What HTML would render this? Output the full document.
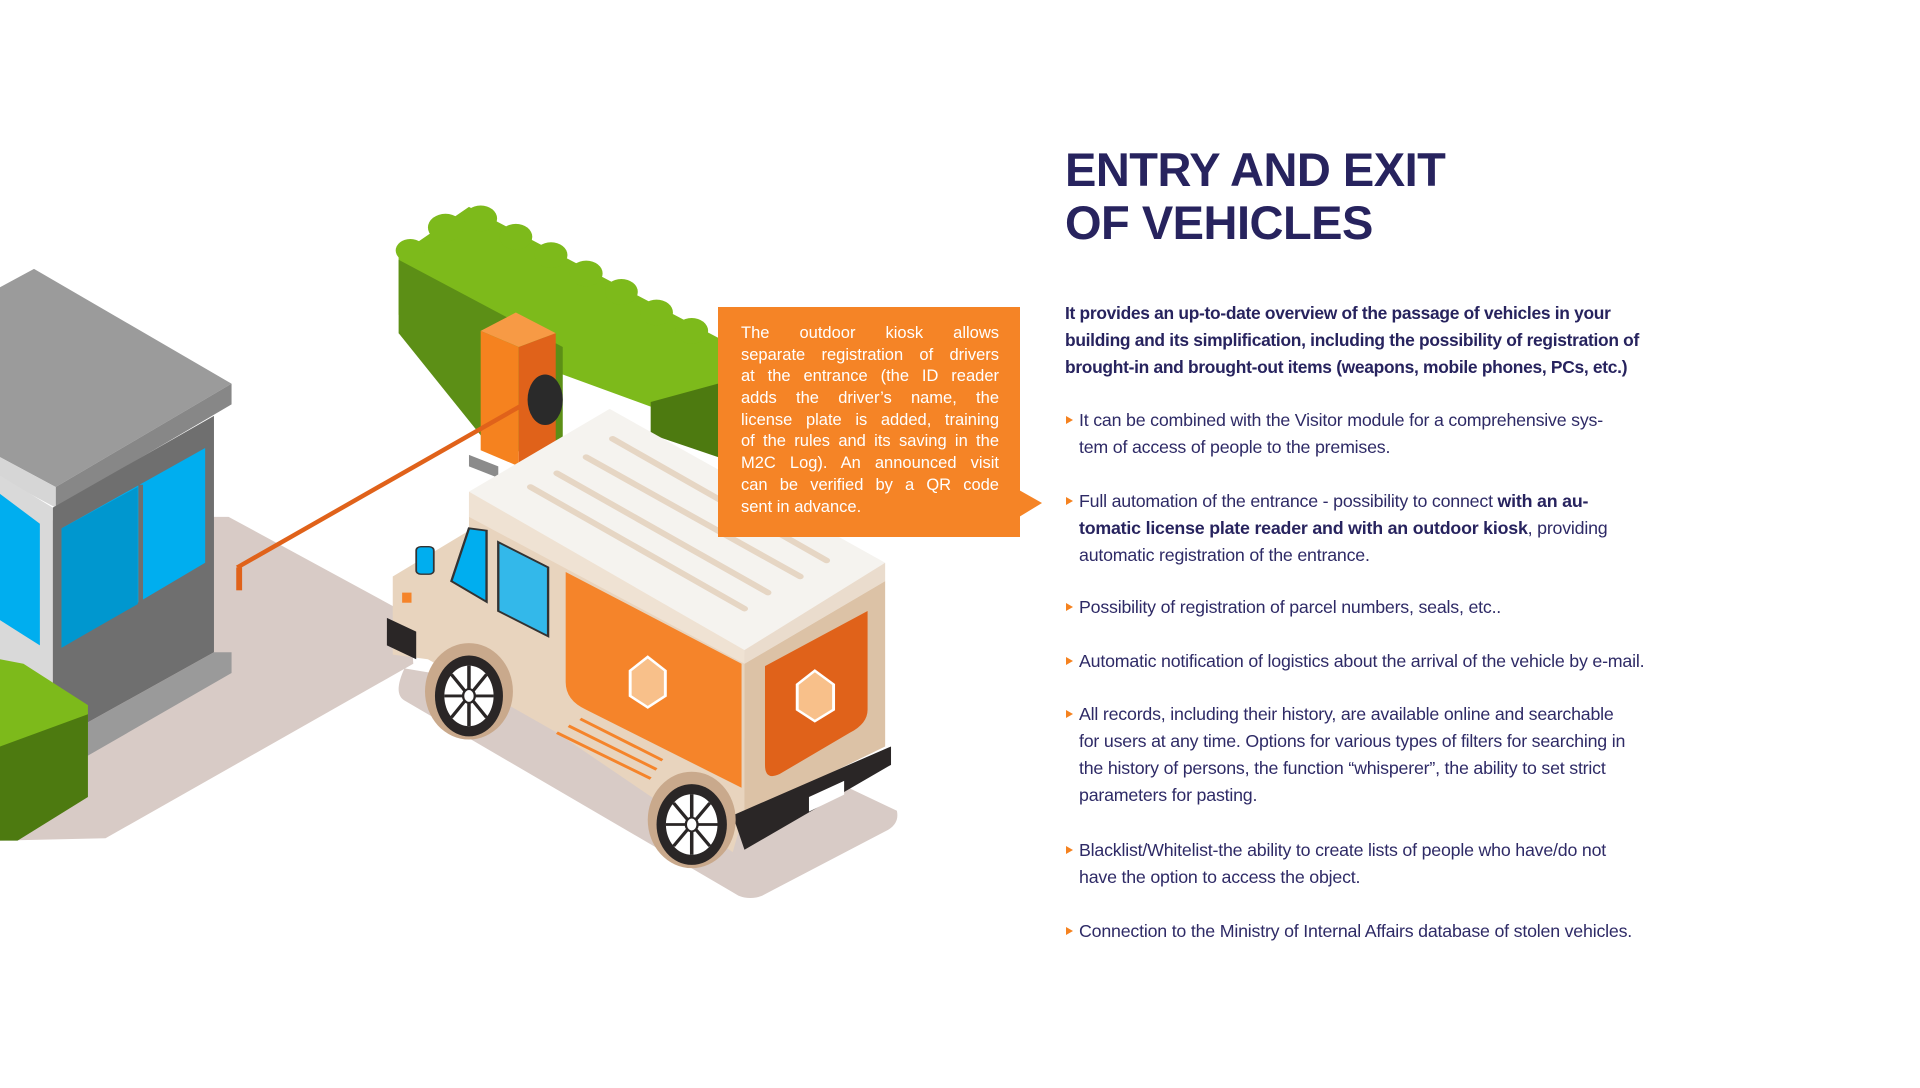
<!DOCTYPE html>
<html><head><meta charset="utf-8"><style>
html,body{margin:0;padding:0;background:#fff;}
body{width:1920px;height:1088px;position:relative;overflow:hidden;font-family:"Liberation Sans",sans-serif;color:#2b2866;}
.t{position:absolute;left:1065px;top:143px;font-size:47px;line-height:53px;font-weight:bold;color:#27235e;white-space:nowrap;letter-spacing:-0.5px;}
.p{position:absolute;left:1065px;top:300px;font-size:17.4px;line-height:27px;font-weight:bold;color:#27235e;white-space:nowrap;letter-spacing:-0.3px;}
.b{position:absolute;left:1079px;font-size:17.8px;line-height:27px;white-space:nowrap;color:#2e2a66;letter-spacing:-0.2px;}
.b:before{content:"";position:absolute;left:-13px;top:9px;border-left:7px solid #f5821f;border-top:4.5px solid transparent;border-bottom:4.5px solid transparent;}
.b b{color:#27235e;}
.box{position:absolute;left:718px;top:307px;width:302px;height:230px;background:#f58426;}
.box .tx{position:absolute;left:23px;top:16px;width:258px;font-size:16.5px;line-height:21.7px;color:#fff;}
.box .tx div{text-align:justify;text-align-last:justify;white-space:nowrap;height:21.7px;}
.box .tx div.l{text-align-last:left;}
.ptr{position:absolute;left:1019px;top:490px;border-left:23px solid #f58426;border-top:13px solid transparent;border-bottom:14px solid transparent;}
</style></head><body>
<svg width="1920" height="1088" style="position:absolute;left:0;top:0">
<g transform="translate(0,200) scale(0.5862,0.4592)">
<path d="M365,690 L390,690 L700,905 L705,1010 L180,1390 L0,1395 L0,700 Z" fill="#d8cbc6"/>
<path d="M690,1020 L1200,1130 L1530,1330 Q1535,1360 1510,1375 L1300,1515 Q1280,1525 1260,1515 L690,1090 Q670,1075 690,1020Z" fill="#d8cbc6"/>
<polygon points="0,190 58,150 395,400 95,625 0,560" fill="#9b9b9b"/>
<polygon points="95,625 395,400 395,445 95,670" fill="#878787"/>
<polygon points="0,560 95,625 95,670 0,605" fill="#d6d6d6"/>
<polygon points="90,670 365,470 365,985 90,1180" fill="#6f6f6f"/>
<polygon points="105,715 350,540 350,790 105,975" fill="#00aeef"/>
<polygon points="105,715 235,625 235,880 105,975" fill="#0097cf"/>
<line x1="240" y1="620" x2="240" y2="880" stroke="#6f6f6f" stroke-width="8"/>
<polygon points="90,1180 365,985 395,985 395,1030 150,1210 90,1210" fill="#9a9a9a"/>
<polygon points="0,600 90,670 90,1180 0,1110" fill="#d9d9d9"/>
<polygon points="0,640 68,705 68,970 0,915" fill="#00aeef"/>
<polygon points="680,120 800,15 1225,300 1225,420 1110,450 960,380 680,250" fill="#7dba1b"/>
<polygon points="680,130 960,320 960,520 850,560 680,290" fill="#5c8f16"/>
<polygon points="1110,440 1225,400 1225,560 1110,510" fill="#4d7a10"/>
<g fill="#7dba1b"><circle cx="700" cy="110" r="25"/><circle cx="760" cy="60" r="30"/><circle cx="820" cy="40" r="28"/><circle cx="880" cy="80" r="28"/><circle cx="940" cy="120" r="28"/><circle cx="1000" cy="160" r="28"/><circle cx="1060" cy="200" r="28"/><circle cx="1120" cy="245" r="28"/><circle cx="1180" cy="285" r="28"/></g>
<polygon points="0,1000 40,1010 150,1100 150,1180 0,1190" fill="#7dba1b"/>
<polygon points="0,1190 150,1120 150,1300 30,1395 0,1395" fill="#4d7a10"/>
<polygon points="800,555 850,580 850,605 800,580" fill="#8b8b8b"/>
<polygon points="820,285 885,320 885,580 820,545" fill="#f5821f"/>
<polygon points="885,320 948,290 948,530 885,580" fill="#e0621a"/>
<polygon points="820,285 880,245 948,290 885,320" fill="#f79a45"/>
<line x1="900" y1="440" x2="405" y2="800" stroke="#e0621a" stroke-width="9"/>
<line x1="408" y1="800" x2="408" y2="850" stroke="#e0621a" stroke-width="10"/>
<ellipse cx="930" cy="435" rx="30" ry="55" fill="#2a2a2a"/>
<polygon points="670,820 800,720 800,640 1270,990 1270,1330 1250,1420 950,1160 730,1000 670,990" fill="#e8d4be"/>
<polygon points="800,635 1040,455 1510,790 1270,980" fill="#f5f3ef"/>
<polygon points="800,635 1270,980 1270,1010 800,690" fill="#efe2d3"/>
<polygon points="1270,980 1510,790 1510,830 1270,1010" fill="#eadccd"/>
<g stroke="#e6d6c4" stroke-width="12" stroke-linecap="round"><line x1="905" y1="625" x2="1270" y2="890"/><line x1="950" y1="595" x2="1310" y2="855"/><line x1="1000" y1="560" x2="1365" y2="820"/><line x1="1045" y1="520" x2="1410" y2="785"/></g>
<polygon points="1270,1010 1510,830 1510,1190 1270,1340" fill="#dcc2a6"/>
<path d="M1305,1015 L1480,895 L1480,1110 Q1480,1140 1450,1160 L1330,1250 Q1305,1265 1305,1230 Z" fill="#e0621a"/>
<polygon points="1250,1340 1520,1190 1520,1230 1270,1415" fill="#2a2626"/>
<polygon points="1380,1300 1440,1265 1440,1295 1380,1332" fill="#fff"/>
<path d="M965,810 L1265,1010 L1265,1280 L1000,1110 Q965,1090 965,1050 Z" fill="#f5842a"/>
<g stroke="#f5842a" stroke-width="6"><line x1="950" y1="1160" x2="1110" y2="1260"/><line x1="970" y1="1145" x2="1120" y2="1240"/><line x1="990" y1="1130" x2="1130" y2="1220"/></g>
<polygon points="800,715 830,720 830,875 770,830" fill="#00aeef" stroke="#333" stroke-width="4"/>
<polygon points="850,745 935,800 935,950 850,895" fill="#33b8ea" stroke="#333" stroke-width="4"/>
<rect x="710" y="755" width="30" height="60" rx="8" fill="#00aeef" stroke="#333" stroke-width="3"/>
<polygon points="660,910 710,940 710,1000 660,970" fill="#2a2626"/>
<rect x="686" y="855" width="16" height="22" fill="#f5842a"/>
<ellipse cx="800" cy="1070" rx="75" ry="105" fill="#c9a98c"/>
<ellipse cx="1180" cy="1350" rx="75" ry="105" fill="#c9a98c"/>
<g><ellipse cx="800" cy="1080" rx="58" ry="88" fill="#2a2626"/><ellipse cx="800" cy="1080" rx="42" ry="66" fill="#fff"/><g stroke="#2a2626" stroke-width="6"><line x1="800" y1="1014" x2="800" y2="1146"/><line x1="758" y1="1080" x2="842" y2="1080"/><line x1="770" y1="1033" x2="830" y2="1127"/><line x1="830" y1="1033" x2="770" y2="1127"/></g><ellipse cx="800" cy="1080" rx="10" ry="15" fill="#fff" stroke="#2a2626" stroke-width="4"/></g>
<g><ellipse cx="1180" cy="1360" rx="60" ry="88" fill="#2a2626"/><ellipse cx="1180" cy="1360" rx="44" ry="66" fill="#fff"/><g stroke="#2a2626" stroke-width="6"><line x1="1180" y1="1294" x2="1180" y2="1426"/><line x1="1136" y1="1360" x2="1224" y2="1360"/><line x1="1149" y1="1313" x2="1211" y2="1407"/><line x1="1211" y1="1313" x2="1149" y2="1407"/></g><ellipse cx="1180" cy="1360" rx="10" ry="15" fill="#fff" stroke="#2a2626" stroke-width="4"/></g>
<polygon points="1105,995 1135,1025 1135,1080 1105,1105 1075,1080 1075,1025" fill="#f8c08a" stroke="#fff" stroke-width="5"/>
<polygon points="1390,1025 1422,1055 1422,1110 1390,1135 1360,1110 1360,1055" fill="#f8c08a" stroke="#fff" stroke-width="5"/>
</g>
</svg>
<div class="box"><div class="tx">
<div>The outdoor kiosk allows</div>
<div>separate registration of drivers</div>
<div>at the entrance (the ID reader</div>
<div>adds the driver’s name, the</div>
<div>license plate is added, training</div>
<div>of the rules and its saving in the</div>
<div>M2C Log). An announced visit</div>
<div>can be verified by a QR code</div>
<div class="l">sent in advance.</div>
</div></div>
<div class="ptr"></div>
<div class="t">ENTRY AND EXIT<br>OF VEHICLES</div>
<div class="p">It provides an up-to-date overview of the passage of vehicles in your<br>building and its simplification, including the possibility of registration of<br>brought-in and brought-out items (weapons, mobile phones, PCs, etc.)</div>
<div class="b" style="top:407px">It can be combined with the Visitor module for a comprehensive sys-<br>tem of access of people to the premises.</div>
<div class="b" style="top:488px">Full automation of the entrance - possibility to connect <b>with an au-</b><br><b>tomatic license plate reader and with an outdoor kiosk</b>, providing<br>automatic registration of the entrance.</div>
<div class="b" style="top:594px">Possibility of registration of parcel numbers, seals, etc..</div>
<div class="b" style="top:648px">Automatic notification of logistics about the arrival of the vehicle by e-mail.</div>
<div class="b" style="top:701px">All records, including their history, are available online and searchable<br>for users at any time. Options for various types of filters for searching in<br>the history of persons, the function “whisperer”, the ability to set strict<br>parameters for pasting.</div>
<div class="b" style="top:837px">Blacklist/Whitelist-the ability to create lists of people who have/do not<br>have the option to access the object.</div>
<div class="b" style="top:918px">Connection to the Ministry of Internal Affairs database of stolen vehicles.</div>
</body></html>
